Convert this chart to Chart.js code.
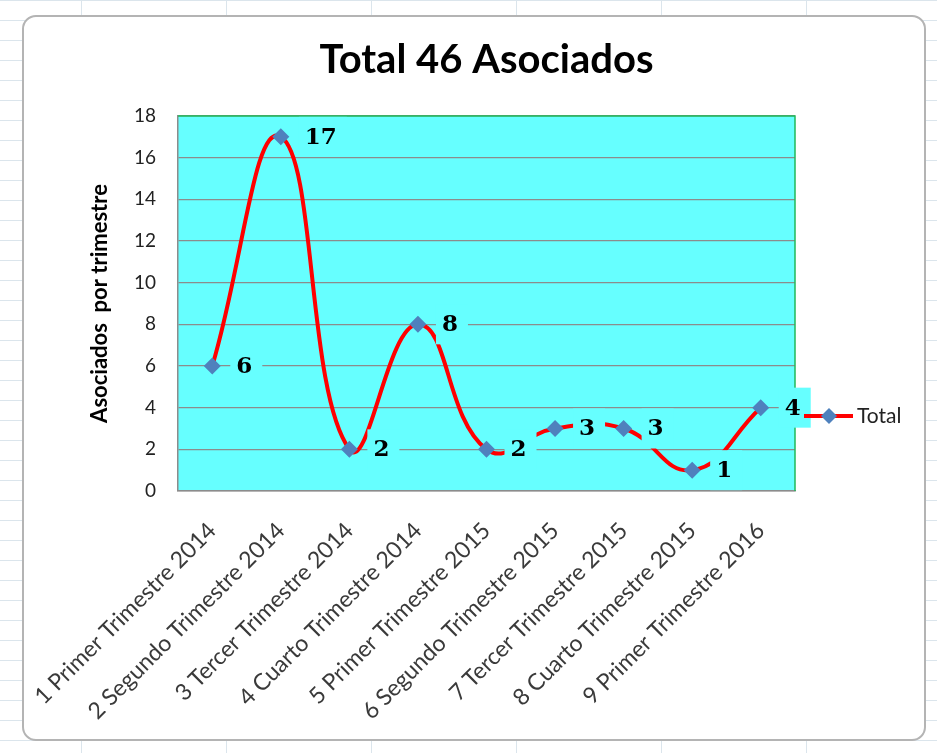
<!DOCTYPE html>
<html>
<head>
<meta charset="utf-8">
<title>Total 46 Asociados</title>
<script src="https://cdn.jsdelivr.net/npm/chart.js@4.4.0/dist/chart.umd.min.js"></script>
<style>
  html, body { margin: 0; padding: 0; }
  body {
    width: 937px; height: 753px; overflow: hidden; position: relative;
    background-color: #fff;
    background-image:
      linear-gradient(to right, #dbe5ec 1px, transparent 1px),
      linear-gradient(to bottom, #dbe5ec 1px, transparent 1px);
    background-size: 145px 20px;
    background-position: 81px 0;
  }
  #frame {
    position: absolute; left: 22px; top: 15px; width: 900px; height: 722px;
    background: #fff; border: 2px solid #b4b4b4; border-radius: 14px;
  }
  #wrap { position: absolute; left: 0; top: 0; width: 937px; height: 753px; }
</style>
</head>
<body>
<div id="frame"></div>
<div id="wrap"><canvas id="chart" width="937" height="753"></canvas></div>
<script>
// Chart data
const categories = [
  '1 Primer Trimestre 2014',
  '2 Segundo Trimestre 2014',
  '3 Tercer Trimestre 2014',
  '4 Cuarto Trimestre 2014',
  '5 Primer Trimestre 2015',
  '6 Segundo Trimestre 2015',
  '7 Tercer Trimestre 2015',
  '8 Cuarto Trimestre 2015',
  '9 Primer Trimestre 2016'
];
const totals = [6, 17, 2, 8, 2, 3, 3, 1, 4];
const seriesName = 'Total';
const chartTitle = 'Total 46 Asociados';
const yTitle = 'Asociados  por trimestre';
const yMin = 0;
const yMax = 18;
const yStep = 2;

// Colours
const plotFill = '#66FFFF';
const plotEdge = '#22B85A';
const lineColor = '#FF0000';
const markerColor = '#4F81BD';
const gridColor = '#8C8C8C';

// Cyan plot area with green top/right edge
const plotBackground = {
  id: 'plotBackground',
  beforeDraw(chart) {
    const { ctx, chartArea: a } = chart;
    ctx.save();
    ctx.fillStyle = plotFill;
    ctx.fillRect(a.left, a.top, a.right - a.left, a.bottom - a.top);
    ctx.restore();
  },
  beforeDatasetsDraw(chart) {
    const { ctx, chartArea: a } = chart;
    ctx.save();
    ctx.strokeStyle = plotEdge;
    ctx.lineWidth = 1.5;
    ctx.beginPath();
    ctx.moveTo(a.left, a.top);
    ctx.lineTo(a.right, a.top);
    ctx.lineTo(a.right, a.bottom);
    ctx.stroke();
    ctx.restore();
  }
};

// Value labels with a cyan box behind them, like Excel
const valueLabels = {
  id: 'valueLabels',
  afterDatasetsDraw(chart) {
    const { ctx } = chart;
    const points = chart.getDatasetMeta(0).data;
    ctx.save();
    ctx.font = 'bold 23px "DejaVu Serif", "Liberation Serif", serif';
    ctx.textBaseline = 'middle';
    ctx.textAlign = 'left';
    points.forEach((pt, i) => {
      const text = String(totals[i]);
      const tw = ctx.measureText(text).width;
      ctx.fillStyle = plotFill;
      ctx.fillRect(pt.x + 18, pt.y - 20, tw + 16, 40);
      ctx.fillStyle = '#000';
      ctx.fillText(text, pt.x + 24, pt.y + 1);
    });
    ctx.restore();
  }
};

// Legend key on the right side
const legendKey = {
  id: 'legendKey',
  afterDraw(chart) {
    const { ctx, chartArea: a } = chart;
    const y = a.bottom - 75;
    const x0 = a.right + 9;
    ctx.save();
    ctx.strokeStyle = lineColor;
    ctx.lineWidth = 4;
    ctx.beginPath();
    ctx.moveTo(x0, y);
    ctx.lineTo(x0 + 49, y);
    ctx.stroke();
    const cx = x0 + 25;
    ctx.fillStyle = markerColor;
    ctx.beginPath();
    ctx.moveTo(cx, y - 8);
    ctx.lineTo(cx + 8, y);
    ctx.lineTo(cx, y + 8);
    ctx.lineTo(cx - 8, y);
    ctx.closePath();
    ctx.fill();
    ctx.fillStyle = '#222';
    ctx.font = '21px Lato, "Open Sans", sans-serif';
    ctx.textBaseline = 'middle';
    ctx.fillText(seriesName, x0 + 53, y);
    ctx.restore();
  }
};

const ctx = document.getElementById('chart').getContext('2d');
new Chart(ctx, {
  type: 'line',
  data: {
    labels: categories,
    datasets: [{
      label: seriesName,
      data: totals,
      borderColor: lineColor,
      borderWidth: 4,
      tension: 0.45,
      fill: false,
      pointStyle: 'rectRot',
      pointRadius: 8.5,
      pointBackgroundColor: markerColor,
      pointBorderColor: markerColor,
      pointBorderWidth: 0
    }]
  },
  options: {
    responsive: false,
    animation: false,
    layout: {
      padding: { left: 80, right: 142, top: 0, bottom: 0 }
    },
    plugins: {
      legend: { display: false },
      tooltip: { enabled: false },
      title: {
        display: true,
        text: chartTitle,
        fullSize: false,
        color: '#000',
        font: { family: 'Lato, "Open Sans", sans-serif', size: 40, weight: 'bold' },
        padding: { top: 36, bottom: 32 }
      }
    },
    scales: {
      x: {
        offset: true,
        grid: { display: false },
        border: { display: true, color: gridColor, width: 1.5 },
        ticks: {
          color: '#3a3a3a',
          font: { family: 'Lato, "Open Sans", sans-serif', size: 23 },
          minRotation: 45,
          maxRotation: 45,
          padding: 18
        },
        afterFit(scale) { scale.height = 262; }
      },
      y: {
        min: yMin,
        max: yMax,
        ticks: {
          stepSize: yStep,
          color: '#222',
          font: { family: 'Lato, "Open Sans", sans-serif', size: 19 },
          padding: 22
        },
        grid: { color: gridColor, lineWidth: 1.3, drawTicks: false },
        border: { display: true, color: gridColor, width: 1.5 },
        title: {
          display: true,
          text: yTitle,
          color: '#000',
          font: { family: 'Lato, "Open Sans", sans-serif', size: 22, weight: 'bold' },
          padding: { top: 7, bottom: 0 }
        },
        afterFit(scale) { scale.width = 98; }
      }
    }
  },
  plugins: [plotBackground, valueLabels, legendKey]
});
</script>
</body>
</html>
